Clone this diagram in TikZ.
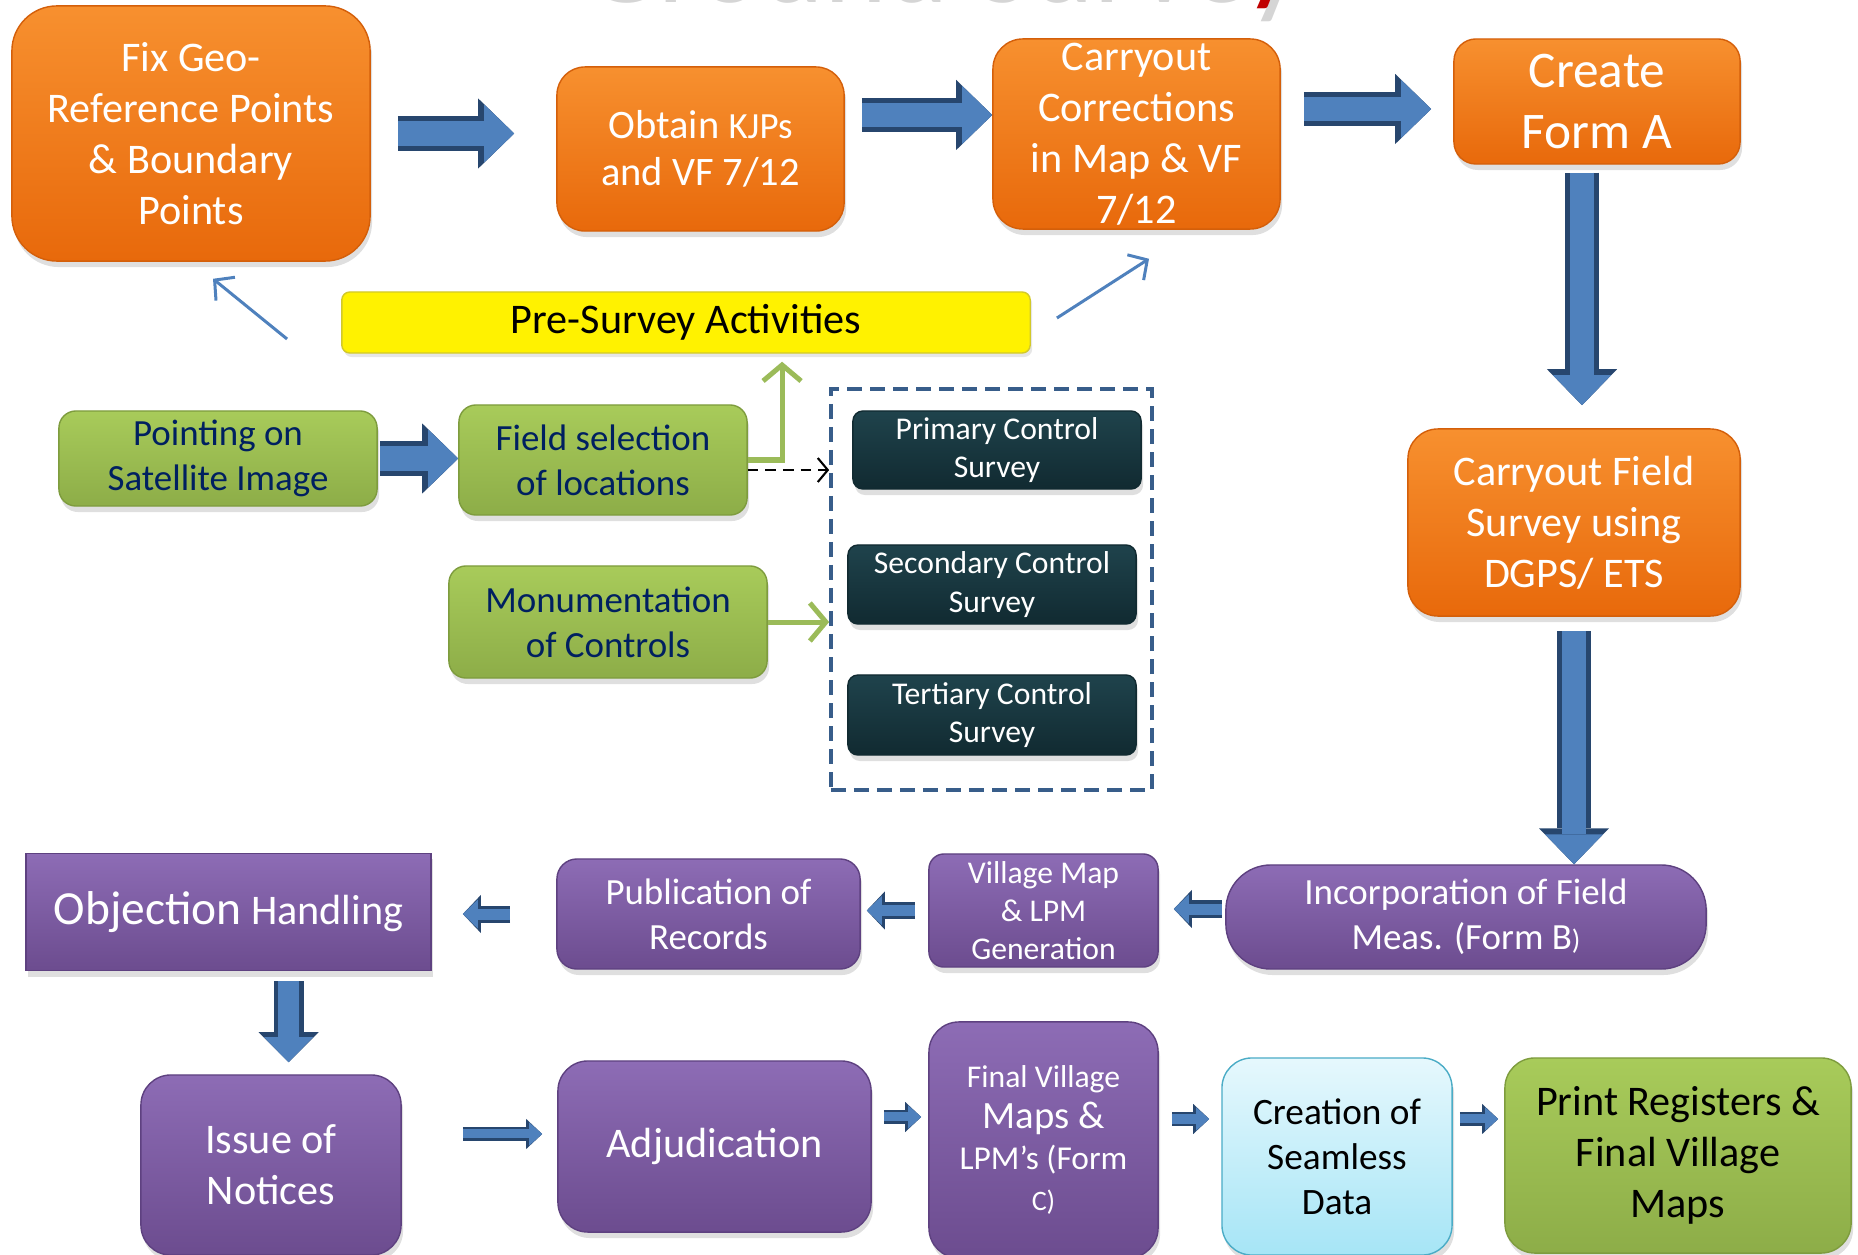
\documentclass[tikz,border=0pt]{standalone}
\usepackage{fontspec}
\setmainfont{Carlito}
\usetikzlibrary{arrows.meta,shadows}

\definecolor{orangeL}{HTML}{F7902F}
\definecolor{orangeD}{HTML}{E8690B}
\definecolor{orangeE}{HTML}{D45F0A}
\definecolor{greenL}{HTML}{A8CB5A}
\definecolor{greenD}{HTML}{8DAD48}
\definecolor{greenE}{HTML}{7E9C3E}
\definecolor{darkL}{HTML}{1F434C}
\definecolor{darkD}{HTML}{112A31}
\definecolor{purpleL}{HTML}{8D6CB5}
\definecolor{purpleD}{HTML}{6C4C8F}
\definecolor{purpleE}{HTML}{5E4180}
\definecolor{cyanL}{HTML}{E6F8FD}
\definecolor{cyanD}{HTML}{A6E5F6}
\definecolor{cyanE}{HTML}{4BACC6}
\definecolor{navytext}{HTML}{002060}
\definecolor{arrblue}{HTML}{4F81BD}
\definecolor{arrdark}{HTML}{27466E}
\definecolor{dashblue}{HTML}{385D8A}
\definecolor{linegreen}{HTML}{9BBB59}
\definecolor{titlered}{HTML}{C00000}

\begin{document}
\begin{tikzpicture}[x=0.01cm,y=-0.01cm,
  box/.style={rounded corners=0.3cm, align=center, inner sep=0pt,
    drop shadow={opacity=0.25,shadow xshift=0.02cm,shadow yshift=-0.06cm}},
  orangebox/.style={box, top color=orangeL, bottom color=orangeD, draw=orangeE,
    text=white, font=\fontsize{12}{14.5}\selectfont},
  greenbox/.style={box, rounded corners=0.17cm, top color=greenL, bottom color=greenD,
    draw=greenE, text=navytext, font=\fontsize{10.5}{12.8}\selectfont},
  darkbox/.style={box, rounded corners=0.1cm, top color=darkL, bottom color=darkD,
    draw=darkD, text=white, font=\fontsize{9}{11}\selectfont},
  purplebox/.style={box, rounded corners=0.25cm, top color=purpleL, bottom color=purpleD,
    draw=purpleE, text=white, font=\fontsize{10.5}{12.8}\selectfont},
  ctrlbox/.style={draw=dashblue, line width=0.035cm, dash pattern=on 0.15cm off 0.08cm},
  bigarr/.style={draw=arrdark, line width=0.34cm,
    -{Triangle[length=0.36cm,width=0.7cm,line width=0pt]},
    postaction={draw=arrblue, line width=0.24cm,
      -{Triangle[length=0.3cm,width=0.58cm,line width=0pt]}}},
  medarr/.style={draw=arrdark, line width=0.3cm,
    -{Triangle[length=0.3cm,width=0.6cm,line width=0pt]},
    postaction={draw=arrblue, line width=0.21cm,
      -{Triangle[length=0.25cm,width=0.49cm,line width=0pt]}}},
  smallarr/.style={draw=arrdark, line width=0.17cm,
    -{Triangle[length=0.18cm,width=0.38cm,line width=0pt]},
    postaction={draw=arrblue, line width=0.11cm,
      -{Triangle[length=0.15cm,width=0.29cm,line width=0pt]}}},
  tinyarr/.style={draw=arrdark, line width=0.14cm,
    -{Triangle[length=0.16cm,width=0.3cm,line width=0pt]},
    postaction={draw=arrblue, line width=0.09cm,
      -{Triangle[length=0.13cm,width=0.23cm,line width=0pt]}}},
  thinarr/.style={draw=arrblue, line width=0.03cm, -{Straight Barb[length=0.14cm,width=0.3cm]}},
  greenarr/.style={draw=linegreen, line width=0.05cm, -{Straight Barb[length=0.16cm,width=0.38cm]}}
]
\useasboundingbox (0,0) rectangle (1858,1255);
\clip (0,0) rectangle (1858,1255);

% title, only its lower edge shows
\node[anchor=base, text=gray!55, opacity=0.6, font=\fontsize{34}{40}\selectfont] (titleshadow) at (943,3) {Ground Survey};
\node[anchor=base, text=titlered, font=\fontsize{34}{40}\selectfont] (title) at (939,-10) {Ground Survey};

% pre-survey row
\node[orangebox, rounded corners=0.45cm, minimum width=3.58cm, minimum height=2.55cm] (fix) at (191,133.5) {Fix Geo-\\Reference Points\\\& Boundary\\Points};
\node[orangebox, rounded corners=0.28cm, minimum width=2.87cm, minimum height=1.64cm, font=\fontsize{11.5}{13.5}\selectfont] (kjp) at (700.5,149) {Obtain {\fontsize{10.5}{13.5}\selectfont KJPs}\\and VF 7/12};
\node[orangebox, minimum width=2.87cm, minimum height=1.9cm] (corr) at (1136.5,134) {Carryout\\Corrections\\in Map \& VF\\7/12};
\node[orangebox, rounded corners=0.22cm, minimum width=2.86cm, minimum height=1.25cm, font=\fontsize{14.6}{17.6}\selectfont] (forma) at (1597,101.5) {Create\\Form A};
\node[orangebox, minimum width=3.32cm, minimum height=1.87cm] (field) at (1574,522.5) {Carryout Field\\Survey using\\DGPS/ ETS};

\node[rounded corners=0.08cm, fill=yellow, draw=yellow!80!black, minimum width=6.88cm, minimum height=0.61cm, font=\fontsize{12}{14.5}\selectfont,
  drop shadow={opacity=0.2,shadow xshift=0.02cm,shadow yshift=-0.04cm}] (pre) at (686,322.5) {Pre-Survey Activities};

\node[greenbox, minimum width=3.18cm, minimum height=0.95cm] (point) at (218,458.5) {Pointing on\\Satellite Image};
\node[greenbox, minimum width=2.88cm, minimum height=1.1cm] (fsel) at (603,460) {Field selection\\of locations};
\node[greenbox, minimum width=3.18cm, minimum height=1.12cm] (monu) at (608,622) {Monumentation\\of Controls};

\node[ctrlbox, minimum width=3.21cm, minimum height=4.01cm] (ctrl) at (991.5,589.5) {};
\node[darkbox, minimum width=2.88cm, minimum height=0.78cm] (prim) at (997,450) {Primary Control\\Survey};
\node[darkbox, minimum width=2.88cm, minimum height=0.79cm] (sec) at (992,584.5) {Secondary Control\\Survey};
\node[darkbox, minimum width=2.88cm, minimum height=0.8cm] (tert) at (992,715) {Tertiary Control\\Survey};

% processing rows
\node[purplebox, rounded corners=0pt, minimum width=4.05cm, minimum height=1.17cm, font=\fontsize{12}{14}\selectfont] (obj) at (228.5,912) {{\fontsize{13.5}{14}\selectfont Objection} Handling};
\node[purplebox, rounded corners=0.2cm, minimum width=3.03cm, minimum height=1.1cm] (pub) at (708.5,914) {Publication of\\Records};
\node[purplebox, rounded corners=0.15cm, minimum width=2.29cm, minimum height=1.13cm, font=\fontsize{9}{10.8}\selectfont] (vmap) at (1043.5,910.5) {Village Map\\\& LPM\\Generation};
\node[purplebox, rounded corners=0.45cm, minimum width=4.8cm, minimum height=1.04cm] (inc) at (1466,917) {Incorporation of Field\\Meas. (Form B{\fontsize{8}{10}\selectfont )}};

\node[purplebox, rounded corners=0.3cm, minimum width=2.6cm, minimum height=1.8cm, font=\fontsize{12}{14.5}\selectfont] (iss) at (271,1165) {Issue of\\Notices};
\node[purplebox, rounded corners=0.3cm, minimum width=3.13cm, minimum height=1.71cm, font=\fontsize{12}{14.5}\selectfont] (adj) at (714.5,1146.5) {Adjudication};
\node[purplebox, rounded corners=0.3cm, minimum width=2.29cm, minimum height=2.36cm, font=\fontsize{9}{11.7}\selectfont] (fvm) at (1043.5,1140) {Final Village\\{\fontsize{11}{11.7}\selectfont Maps \&}\\{\fontsize{9.5}{11.7}\selectfont LPM’s (Form}\\{\fontsize{8}{11.7}\selectfont C)}};
\node[box, top color=cyanL, bottom color=cyanD, draw=cyanE, minimum width=2.3cm, minimum height=1.97cm, font=\fontsize{10.6}{12.8}\selectfont] (seam) at (1337,1156.5) {Creation of\\Seamless\\Data};
\node[box, top color=greenL, bottom color=greenD, draw=greenE, minimum width=3.46cm, minimum height=1.95cm, font=\fontsize{12}{14.5}\selectfont] (print) at (1678,1155.5) {Print Registers \&\\Final Village\\Maps};

% block arrows
\draw[bigarr, shorten <=0.27cm, shorten >=0.42cm] (fix.east) -- (fix.east -| kjp.west);
\draw[bigarr, shorten <=0.17cm] ([yshift=0.34cm]kjp.east) -- ([yshift=0.34cm]kjp.east -| corr.west);
\draw[bigarr, shorten <=0.23cm, shorten >=0.22cm] ([yshift=0.25cm]corr.east) -- ([yshift=0.25cm]corr.east -| forma.west);
\draw[bigarr, shorten <=0.08cm, shorten >=0.23cm] ([xshift=-0.15cm]forma.south) -- ([xshift=-0.15cm]forma.south |- field.north);
\draw[bigarr, shorten <=0.14cm] (field.south) -- (field.south |- inc.north);
\draw[bigarr, shorten <=0.02cm] (point.east) -- (point.east -| fsel.west);

\draw[smallarr, shorten <=0.03cm, shorten >=0.15cm] ([yshift=0.08cm]inc.west) -- ([yshift=0.08cm]inc.west -| vmap.east);
\draw[smallarr, shorten <=0.13cm, shorten >=0.06cm] (vmap.west) -- (vmap.west -| pub.east);
\draw[smallarr, shorten <=0.46cm, shorten >=0.31cm] (pub.west) -- (pub.west -| obj.east);
\draw[medarr, shorten <=0.1cm, shorten >=0.12cm] ([xshift=0.6cm]obj.south) -- ([xshift=0.6cm]obj.south |- iss.north);
\draw[tinyarr, shorten <=0.61cm, shorten >=0.15cm] ([yshift=0.31cm]iss.east) -- ([yshift=0.31cm]iss.east -| adj.west);
\draw[tinyarr, shorten <=0.12cm, shorten >=0.07cm] ([yshift=0.295cm]adj.east) -- ([yshift=0.295cm]adj.east -| fvm.west);
\draw[tinyarr, shorten <=0.13cm, shorten >=0.12cm] ([yshift=0.21cm]fvm.east) -- ([yshift=0.21cm]fvm.east -| seam.west);
\draw[tinyarr, shorten <=0.07cm, shorten >=0.06cm] ([yshift=0.375cm]seam.east) -- ([yshift=0.375cm]seam.east -| print.west);

% thin links
\draw[thinarr] ([xshift=-0.54cm,yshift=-0.165cm]pre.west) -- ([xshift=0.22cm,yshift=-0.17cm]fix.south);
\draw[thinarr] ([xshift=0.26cm,yshift=0.045cm]pre.east) -- ([xshift=0.125cm,yshift=-0.29cm]corr.south);
\draw[greenarr] (fsel.east) -| ([xshift=0.96cm,yshift=-0.08cm]pre.south);
\draw[greenarr] (monu.east) -- (monu.east -| ctrl.west);
\draw[densely dashed, line width=0.6pt, -{Straight Barb[length=0.1cm,width=0.24cm]}] ([yshift=-0.1cm]fsel.east) -- ([yshift=-0.1cm]fsel.east -| ctrl.west);
\end{tikzpicture}
\end{document}
